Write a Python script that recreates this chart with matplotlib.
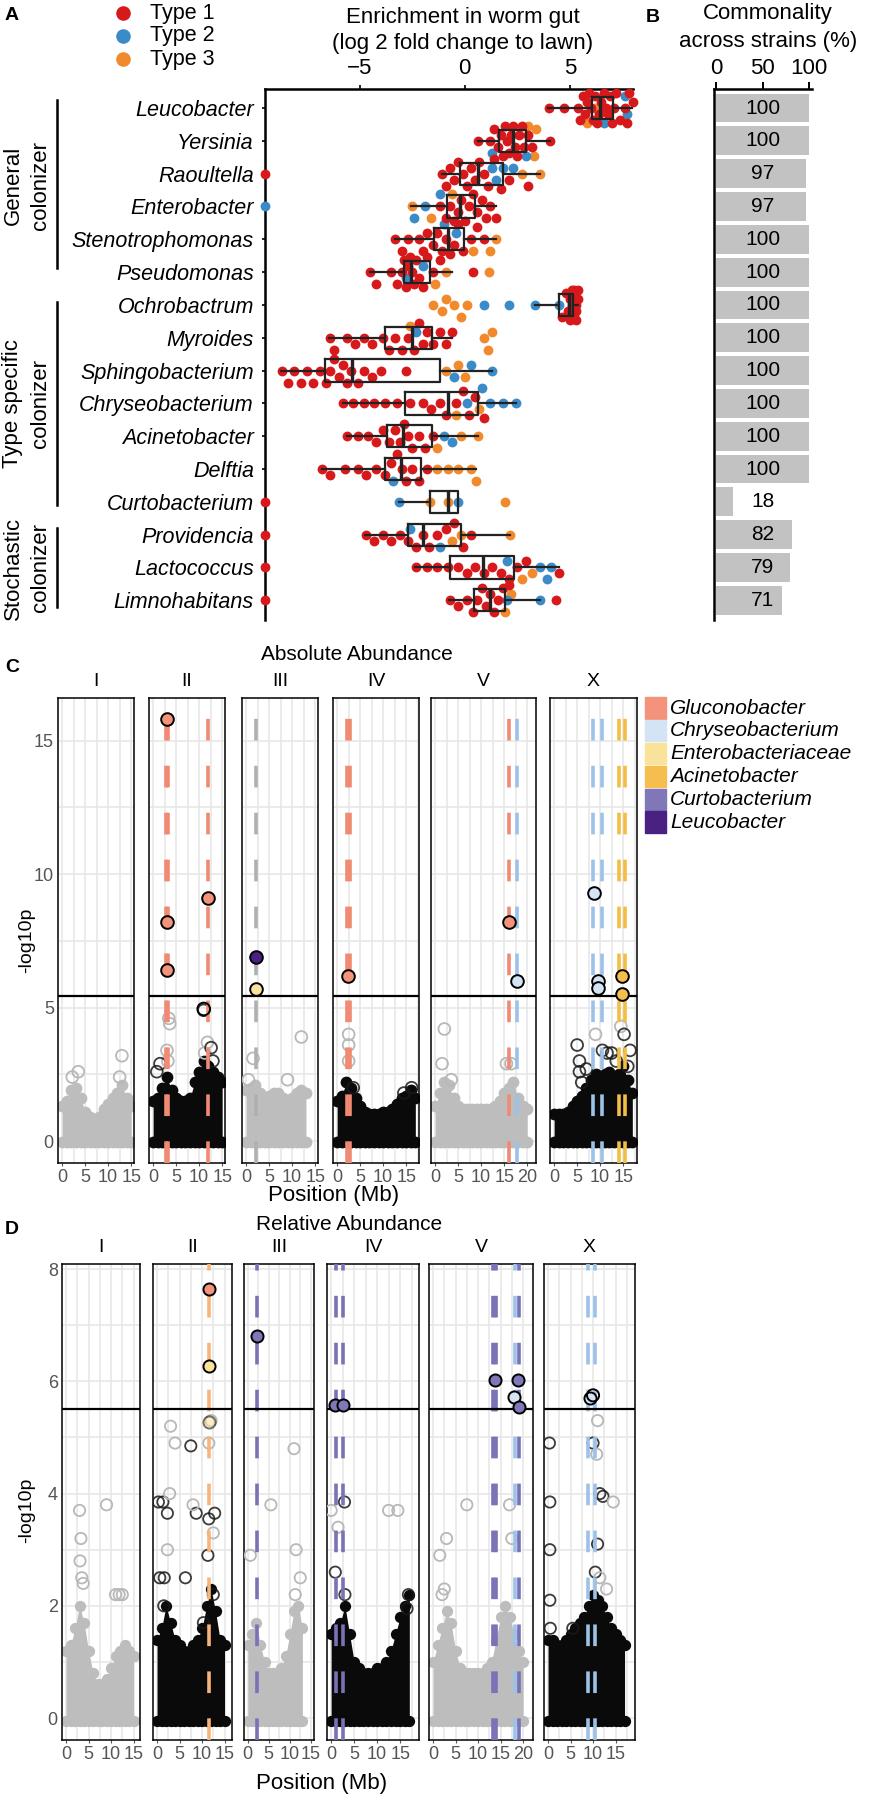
import matplotlib
matplotlib.use('Agg')
from matplotlib import pyplot as plt
from matplotlib.patches import Rectangle
from matplotlib.lines import Line2D
import numpy as np

plt.rcParams['font.family'] = ['Liberation Sans', 'DejaVu Sans']
NARROW = ['Liberation Sans Narrow', 'Liberation Sans', 'DejaVu Sans']

W, H = 887, 1800

# ---------------- Panel A / B data ----------------
GENERA = ['Leucobacter', 'Yersinia', 'Raoultella', 'Enterobacter', 'Stenotrophomonas',
          'Pseudomonas', 'Ochrobactrum', 'Myroides', 'Sphingobacterium', 'Chryseobacterium',
          'Acinetobacter', 'Delftia', 'Curtobacterium', 'Providencia', 'Lactococcus',
          'Limnohabitans']
TYPE_NAMES = ['Type 1', 'Type 2', 'Type 3']
TYPE_COLORS = ['#d7191c', '#3a8bc8', '#f08a2c']

BOX_WLO = [3.97, 0.63, -1.10, -2.54, -3.33, -4.52, 3.33, -6.46, -8.74, -5.79, -5.62, -6.80, -3.15, -4.73, -2.37, -0.76]
BOX_Q1 = [6.03, 1.63, -0.24, -0.84, -1.48, -2.90, 4.49, -3.78, -6.63, -2.83, -3.72, -3.78, -1.67, -2.72, -0.72, 0.44]
BOX_MED = [6.45, 2.30, 0.63, -0.24, -0.80, -2.54, 4.95, -2.51, -5.36, -0.82, -2.93, -3.05, -0.82, -1.99, 0.87, 1.18]
BOX_Q3 = [7.06, 2.90, 1.80, 0.48, -0.03, -1.63, 5.13, -1.56, -1.18, 0.61, -1.56, -2.09, -0.34, -0.19, 2.34, 1.92]
BOX_WHI = [8.00, 4.05, 3.57, 1.50, 1.50, -0.63, 5.40, -0.60, 1.29, 2.45, 0.65, 0.55, -0.30, 2.14, 4.46, 3.60]

# strain values (log2 fold change) per genus, by type
TYPE1_VALS = [
    [4.0, 4.7, 5.4, 5.5, 5.6, 5.7, 5.8, 5.9, 6.0, 6.1, 6.2, 6.3, 6.4, 6.5, 6.6, 6.7, 6.8, 6.9, 7.0, 7.1, 7.2, 7.4, 7.6, 7.7, 7.8, 8.0],
    [0.63, 1.2, 1.4, 1.6, 1.7, 1.8, 1.9, 2.0, 2.1, 2.2, 2.3, 2.4, 2.5, 2.6, 2.7, 2.8, 3.0, 3.2, 4.05],
    [-9.5, -1.1, -0.9, -0.7, -0.5, -0.3, -0.1, 0.1, 0.3, 0.5, 0.7, 0.9, 1.1, 1.4, 1.7, 2.1, 3.0],
    [-1.2, -0.9, -0.7, -0.5, -0.3, -0.2, 0.0, 0.2, 0.4, 0.6, 0.8, 1.0, 1.2, 1.5],
    [-3.3, -3.0, -2.7, -2.2, -2.0, -1.8, -1.5, -1.3, -1.1, -0.9, -0.7, -0.5, -0.3, -0.1, 0.3, 0.6, 0.9],
    [-4.5, -4.2, -3.5, -3.2, -3.0, -2.9, -2.8, -2.7, -2.6, -2.5, -2.4, -2.3, -2.2, -2.0, -1.8, -1.5, -1.2, 0.4],
    [4.6, 4.8, 4.9, 5.0, 5.0, 5.1, 5.1, 5.2, 5.2, 5.2, 5.3, 5.3, 5.3, 5.4, 5.4],
    [-6.4, -6.2, -5.6, -5.2, -4.8, -4.4, -3.9, -3.6, -3.3, -3.0, -2.7, -2.4, -2.2, -2.0, -1.8, -1.5, -1.2, -0.9, -0.6],
    [-8.7, -8.4, -8.1, -7.8, -7.5, -7.2, -6.9, -6.6, -6.4, -6.2, -6.0, -5.8, -5.6, -5.4, -5.1, -4.8, -4.4, -4.0, -2.8],
    [-5.8, -5.3, -4.8, -4.3, -3.8, -3.2, -2.6, -2.0, -1.6, -1.2, -0.9, -0.4, -0.1, 0.2, 0.5, 0.9],
    [-5.6, -5.1, -4.6, -4.2, -3.9, -3.6, -3.3, -3.1, -2.9, -2.7, -2.5, -2.2, -1.9, -1.5],
    [-6.8, -6.4, -5.7, -5.1, -4.7, -4.2, -3.8, -3.5, -3.2, -3.0, -2.8, -2.5, -2.2, -1.8],
    [-9.5],
    [-9.5, -4.7, -4.3, -3.9, -3.5, -3.1, -2.7, -2.3, -2.0, -1.7, -1.3, -0.9, -0.5, -0.1, 0.3],
    [-9.5, -2.3, -1.8, -1.3, -0.8, -0.3, 0.1, 0.5, 0.9, 1.3, 1.7, 2.1, 2.5, 2.9, 4.46],
    [-9.5, -0.7, -0.3, 0.1, 0.4, 0.6, 0.8, 1.0, 1.2, 1.4, 1.6, 1.8, 2.1, 4.35],
]
TYPE2_VALS = [
    [6.6, 7.6, 7.7], [1.3, 2.9], [1.3, 1.5, 1.8, 2.3], [-9.5, -2.4, -1.9, -1.2],
    [-1.0, -0.4], [-2.8, -2.0], [0.9, 2.1, 3.33, 4.5], [-2.3],
    [-0.5, 0.3, 1.3], [0.1, 0.8, 1.2, 1.8, 2.45], [-1.0, -0.6], [-3.4],
    [-3.15, -0.3], [-2.6, -1.2], [2.0, 3.6, 3.9, 4.1], [2.0, 3.6],
]
TYPE3_VALS = [
    [5.8, 6.2], [3.0, 3.3, 3.4], [2.7, 3.57], [-2.5, -1.6, -0.6],
    [0.4, 1.2, 1.5], [-1.4, -0.9, 1.15], [-1.5, -1.1, -0.9, -0.5, -0.2, 0.1], [-2.6, 0.9, 1.1, 1.3],
    [-0.9, -0.3, 0.0], [-0.4, 0.7], [-1.3, -0.2, 0.65], [-1.3, -0.8, -0.3, 0.3, 0.55],
    [-1.67, -0.8, 1.93], [-0.6, -0.2, 2.14], [2.7, 3.2], [1.9, 2.2],
]

COMMONALITY = [100, 100, 97, 97, 100, 100, 100, 100, 100, 100, 100, 100, 18, 82, 79, 71]

# ---------------- Panel C / D data ----------------
CHROMS = ['I', 'II', 'III', 'IV', 'V', 'X']
TAXA = ['Gluconobacter', 'Chryseobacterium', 'Enterobacteriaceae', 'Acinetobacter',
        'Curtobacterium', 'Leucobacter']
TAXA_FILL = ['#f4937c', '#d4e4f4', '#fbe29b', '#f6be4f', '#7f77b8', '#4b2083']
CLOUD_COLORS = ['#bdbdbd', '#0a0a0a', '#bdbdbd', '#0a0a0a', '#bdbdbd', '#0a0a0a']

# upper edge of the dense marker cloud at 0, 1, 2 ... Mb
C_ENV = [
    [1.3, 1.5, 1.9, 2.0, 1.6, 1.1, 0.9, 0.8, 0.9, 1.2, 1.4, 1.6, 1.8, 2.1, 1.6, 1.3],
    [1.5, 1.6, 2.0, 2.4, 1.9, 1.6, 1.5, 1.5, 1.6, 2.2, 2.6, 3.0, 2.8, 2.6, 2.4, 2.2],
    [1.9, 2.0, 2.1, 1.8, 1.6, 1.7, 1.8, 1.8, 1.6, 1.5, 1.6, 1.8, 1.9, 1.8],
    [1.5, 1.7, 2.2, 2.0, 1.6, 1.3, 1.1, 1.0, 1.0, 1.0, 1.1, 1.1, 1.2, 1.4, 1.6, 1.7, 1.9, 1.6],
    [1.3, 1.8, 2.2, 2.1, 1.6, 1.3, 1.2, 1.2, 1.2, 1.2, 1.2, 1.2, 1.2, 1.3, 1.5, 1.8, 2.0, 2.2, 1.6, 1.3, 1.2],
    [1.0, 1.0, 1.0, 1.1, 1.3, 1.5, 1.7, 2.0, 2.3, 2.5, 2.4, 2.5, 2.6, 2.4, 2.5, 2.8, 2.3, 1.8],
]
D_ENV = [
    [1.2, 1.3, 1.6, 2.0, 1.7, 1.2, 0.8, 0.6, 0.6, 0.7, 0.9, 1.1, 1.2, 1.3, 1.2, 1.1],
    [1.4, 1.6, 2.0, 1.7, 1.4, 1.3, 1.2, 1.2, 1.3, 1.4, 1.6, 2.0, 2.3, 1.9, 1.4, 1.3],
    [1.3, 1.5, 1.7, 1.3, 1.0, 0.8, 0.8, 0.8, 0.9, 1.1, 1.5, 1.9, 2.0, 1.6],
    [1.5, 1.6, 1.7, 2.0, 1.5, 1.0, 0.9, 0.8, 0.8, 0.8, 0.9, 0.9, 1.0, 1.2, 1.5, 1.8, 2.0, 2.2],
    [1.0, 1.3, 1.6, 1.9, 1.7, 1.2, 0.9, 0.8, 0.8, 0.8, 0.8, 0.8, 0.9, 1.0, 1.4, 1.8, 2.0, 1.8, 1.5, 1.2, 1.0],
    [1.4, 1.4, 1.3, 1.3, 1.4, 1.5, 1.6, 1.7, 1.8, 2.0, 2.2, 2.1, 2.0, 1.8, 1.6, 1.5, 1.4, 1.3],
]

# scattered markers above the cloud (1 = dark, 0 = light)
C_OUT_CHR = ['I', 'I', 'I', 'I', 'II', 'II', 'II', 'II', 'II', 'II', 'II', 'II', 'II', 'II', 'II',
             'III', 'III', 'III', 'III', 'IV', 'IV', 'IV', 'IV', 'IV', 'IV',
             'V', 'V', 'V', 'V', 'V', 'X', 'X', 'X', 'X', 'X', 'X', 'X', 'X', 'X', 'X', 'X', 'X', 'X', 'X']
C_OUT_POS = [2.2, 3.5, 13.0, 12.5, 3.4, 3.6, 3.0, 3.2, 1.5, 0.8, 11.0, 11.8, 11.2, 12.6, 13.0,
             12.0, 1.5, 0.5, 9.0, 2.5, 2.5, 2.5, 3.5, 16.2, 14.5,
             2.0, 1.5, 3.5, 15.5, 16.5, 5.0, 5.5, 5.5, 6.0, 9.0, 10.5, 11.5, 12.5, 14.5, 15.2, 16.5, 16.0, 13.5, 7.0]
C_OUT_VAL = [2.4, 2.6, 3.2, 2.4, 4.6, 4.4, 3.4, 3.0, 2.9, 2.6, 4.9, 3.7, 3.3, 3.5, 3.0,
             3.9, 3.1, 2.3, 2.3, 4.0, 3.6, 3.0, 2.0, 2.0, 1.8,
             4.2, 2.9, 2.3, 2.9, 2.9, 3.6, 3.0, 2.6, 2.2, 4.0, 3.4, 3.3, 3.3, 4.3, 4.0, 3.4, 2.8, 3.0, 2.7]
C_OUT_DARK = [0, 0, 0, 0, 0, 0, 0, 0, 1, 1, 1, 0, 0, 1, 1,
              0, 0, 0, 0, 0, 0, 0, 1, 1, 1,
              0, 0, 0, 0, 0, 1, 1, 1, 1, 0, 1, 1, 1, 0, 1, 1, 1, 1, 1]

D_OUT_CHR = ['I'] * 9 + ['II'] * 22 + ['III'] * 6 + ['IV'] * 9 + ['V'] * 7 + ['X'] * 16
D_OUT_POS = [3.0, 3.3, 3.1, 3.5, 3.8, 11.0, 11.8, 12.5, 9.0,
             0.3, 1.3, 2.3, 8.7, 11.5, 12.8, 0.6, 1.6, 11.3, 6.3, 7.5, 10.3, 1.5, 12.5,
             3.0, 4.0, 12.0, 11.5, 2.3, 2.8, 12.5, 8.0,
             11.0, 5.5, 0.6, 11.5, 12.5, 11.3,
             2.9, 0.9, 3.0, 16.8, 16.5, 12.5, 14.5, 0.0, 1.5,
             1.5, 3.0, 2.5, 2.0, 17.0, 17.5, 7.5,
             0.3, 0.4, 0.4, 0.4, 0.5, 10.0, 11.5, 12.2, 11.0, 10.5, 5.5, 14.5, 10.8, 11.5, 13.0, 11.0]
D_OUT_VAL = [3.7, 3.2, 2.8, 2.5, 2.4, 2.2, 2.2, 2.2, 3.8,
             3.85, 3.85, 3.65, 3.65, 3.55, 3.65, 2.5, 2.5, 2.9, 2.5, 4.85, 1.7, 2.0, 2.2,
             5.2, 4.9, 5.3, 4.9, 3.0, 4.0, 3.3, 3.8,
             4.8, 3.8, 2.9, 3.0, 2.5, 2.2,
             3.85, 2.6, 2.2, 2.2, 1.95, 3.7, 3.7, 3.7, 3.4,
             2.9, 3.2, 2.3, 2.2, 3.8, 3.2, 3.8,
             4.9, 3.85, 3.0, 2.1, 1.6, 4.9, 4.0, 3.95, 3.1, 2.6, 1.6, 3.85, 4.7, 2.5, 2.3, 5.3]
D_OUT_DARK = [0] * 9 + [1] * 14 + [0] * 8 + [0] * 6 + [1] * 5 + [0] * 4 + [0] * 7 + [1] * 11 + [0] * 5

# QTL marker lines (chromosome, Mb, colour)
C_LINE_CHR = ['II', 'II', 'II', 'III', 'IV', 'IV', 'V', 'V', 'X', 'X', 'X', 'X']
C_LINE_POS = [2.7, 3.3, 12.0, 2.2, 2.1, 2.8, 16.1, 17.9, 8.5, 10.3, 14.0, 15.3]
C_LINE_COL = ['#f08a72', '#f08a72', '#f08a72', '#b0b0b0', '#f08a72', '#f08a72', '#f08a72',
              '#9cc2e8', '#9cc2e8', '#9cc2e8', '#f2be44', '#f2be44']
D_LINE_CHR = ['II', 'III', 'IV', 'IV', 'V', 'V', 'V', 'V', 'X', 'X']
D_LINE_POS = [11.5, 2.2, 1.0, 2.5, 13.3, 14.0, 18.3, 19.0, 8.8, 10.4]
D_LINE_COL = ['#f6b57a', '#7a72b6', '#7a72b6', '#7a72b6', '#7a72b6', '#7a72b6', '#9cc2e8',
              '#7a72b6', '#9cc2e8', '#9cc2e8']

# significant markers (taxon index, -1 = open circle)
C_SIG_CHR = ['II', 'II', 'II', 'II', 'II', 'III', 'III', 'IV', 'V', 'V', 'X', 'X', 'X', 'X', 'X']
C_SIG_POS = [3.0, 3.0, 3.0, 12.0, 11.0, 2.2, 2.2, 2.4, 16.1, 17.9, 8.7, 9.6, 9.6, 14.8, 14.8]
C_SIG_VAL = [15.8, 8.2, 6.4, 9.1, 4.95, 6.9, 5.7, 6.2, 8.2, 6.0, 9.3, 6.0, 5.75, 6.2, 5.5]
C_SIG_TAX = [0, 0, 0, 0, -1, 5, 2, 0, 0, 1, 1, 1, 1, 3, 3]
D_SIG_CHR = ['II', 'II', 'II', 'III', 'IV', 'IV', 'V', 'V', 'V', 'V', 'X', 'X']
D_SIG_POS = [11.5, 11.5, 11.5, 2.2, 0.8, 2.5, 13.8, 18.8, 17.9, 19.0, 9.4, 10.0]
D_SIG_VAL = [7.65, 6.27, 5.27, 6.8, 5.58, 5.58, 6.02, 6.02, 5.72, 5.55, 5.7, 5.75]
D_SIG_TAX = [0, 2, 2, 4, 4, 4, 4, 4, 1, 4, 1, -1]


def fx(x):
    return x / W


def fy(y):
    return 1 - y / H


def px_axes(fig, left, top, right, bottom):
    return fig.add_axes([left / W, 1 - bottom / H, (right - left) / W, (bottom - top) / H])


def swarm_offsets(vals, xscale=21.0, row=32.8, d=9.5):
    cands = [0.0, 6.0, -6.0, 12.0, -12.0, 15.0, -15.0]
    placed = []
    offs = np.zeros(len(vals))
    for i in np.argsort(vals, kind='stable'):
        x = vals[i] * xscale
        best, best_cost = 0.0, None
        for c in cands:
            cost = sum(max(0.0, d - np.hypot(x - px, c - py)) for px, py in placed)
            if cost == 0:
                best = c
                break
            if best_cost is None or cost < best_cost:
                best, best_cost = c, cost
        placed.append((x, best))
        offs[i] = best / row
    return offs


fig = plt.figure(figsize=(W / 100, H / 100), dpi=100)

# ================= Panel A =================
axA = px_axes(fig, 265, 89, 633, 620)
axA.set_xlim(-9.5, 8.0)
axA.set_ylim(15.6, -0.58)
for s in ['right', 'bottom']:
    axA.spines[s].set_visible(False)
for s in ['top', 'left']:
    axA.spines[s].set_linewidth(1.8)
axA.xaxis.tick_top()
axA.set_xticks([-5, 0, 5])
axA.set_xticklabels(['\u22125', '0', '5'])
axA.tick_params(axis='x', labelsize=16, length=3, width=1.2, pad=4)
axA.set_yticks(range(len(GENERA)))
axA.set_yticklabels(GENERA, fontstyle='italic', fontsize=15.5)
axA.tick_params(axis='y', length=2, width=1.2, pad=6)

for i in range(len(GENERA)):
    vals = TYPE1_VALS[i] + TYPE2_VALS[i] + TYPE3_VALS[i]
    types = [0] * len(TYPE1_VALS[i]) + [1] * len(TYPE2_VALS[i]) + [2] * len(TYPE3_VALS[i])
    offs = swarm_offsets(np.array(vals))
    for t, z in [(2, 3), (1, 4), (0, 5)]:
        xs = [v for v, tt in zip(vals, types) if tt == t]
        ys = [i + o for o, tt in zip(offs, types) if tt == t]
        axA.scatter(xs, ys, s=50, color=TYPE_COLORS[t], lw=0, zorder=z, clip_on=False)

stats = [dict(whislo=BOX_WLO[i], q1=BOX_Q1[i], med=BOX_MED[i], q3=BOX_Q3[i], whishi=BOX_WHI[i])
         for i in range(len(GENERA))]
axA.bxp(stats, positions=range(len(GENERA)), orientation='horizontal', widths=0.68,
        showfliers=False, showcaps=False,
        boxprops=dict(color='#222222', lw=1.6), whiskerprops=dict(color='#222222', lw=1.6),
        medianprops=dict(color='#222222', lw=2.4), manage_ticks=False, zorder=6)
axA.set_yticks(range(len(GENERA)))

fig.text(fx(463), fy(17), 'Enrichment in worm gut', ha='center', va='center', fontsize=16)
fig.text(fx(463), fy(43), '(log 2 fold change to lawn)', ha='center', va='center', fontsize=16)
fig.text(fx(12), fy(16), 'A', ha='center', va='center', fontsize=14, fontweight='bold')

for k, (name, col) in enumerate(zip(TYPE_NAMES, TYPE_COLORS)):
    yy = 13 + k * 23
    fig.add_artist(Line2D([fx(123)], [fy(yy)], marker='o', ms=10.5, color=col, mec='none',
                          transform=fig.transFigure))
    fig.text(fx(150), fy(yy), name, ha='left', va='center', fontsize=15.5)

# colonizer groups
groups = [(('General', 'colonizer'), 100, 268, 185),
          (('Type specific', 'colonizer'), 302, 505, 404),
          (('Stochastic', 'colonizer'), 528, 607, 568)]
for (l1, l2), y0, y1, yc in groups:
    fig.add_artist(Line2D([fx(57), fx(57)], [fy(y0), fy(y1)], color='black', lw=1.8,
                          transform=fig.transFigure))
    fig.text(fx(13), fy(yc), l1, rotation=90, ha='center', va='center', fontsize=16)
    fig.text(fx(41), fy(yc), l2, rotation=90, ha='center', va='center', fontsize=16)

# ================= Panel B =================
axB = px_axes(fig, 714, 89, 812, 620)
axB.set_xlim(-2.2, 103)
axB.set_ylim(15.6, -0.58)
axB.barh(range(len(COMMONALITY)), COMMONALITY, height=0.88, color='#c2c2c2', lw=0)
for i, v in enumerate(COMMONALITY):
    axB.text(50, i, str(v), ha='center', va='center', fontsize=15)
for s in ['right', 'bottom']:
    axB.spines[s].set_visible(False)
for s in ['top', 'left']:
    axB.spines[s].set_linewidth(1.8)
axB.xaxis.tick_top()
axB.set_xticks([0, 50, 100])
axB.tick_params(axis='x', labelsize=16, length=5, width=1.4, pad=2)
axB.set_yticks([])
fig.text(fx(768), fy(14), 'Commonality', ha='center', va='center', fontsize=16)
fig.text(fx(768), fy(41), 'across strains (%)', ha='center', va='center', fontsize=16)
fig.text(fx(653), fy(17), 'B', ha='center', va='center', fontsize=14, fontweight='bold')


# ================= Panels C / D =================
def manhattan(lefts, rights, ppm, top, bottom, ylim, yticks, hstep, thr, env, base, msize,
              out, lines, sig):
    axes = []
    for k, ch in enumerate(CHROMS):
        ax = px_axes(fig, lefts[k], top, rights[k], bottom)
        xmax = (rights[k] - lefts[k]) / ppm[k] - 0.9
        ax.set_xlim(-0.9, xmax)
        ax.set_ylim(*ylim)
        for g in np.arange(0, 25, 2.5):
            if g < xmax:
                ax.axvline(g, color='#e6e6e6', lw=1.1, zorder=0)
        for g in np.arange(0, ylim[1], hstep):
            ax.axhline(g, color='#e6e6e6', lw=1.1, zorder=0)
        e = env[k]
        xs = list(range(len(e)))
        ax.fill_between(xs, base, e, color=CLOUD_COLORS[k], lw=0, zorder=2)
        ax.scatter(xs, e, s=msize, color=CLOUD_COLORS[k], lw=0, zorder=2)
        ax.scatter(xs, [base] * len(xs), s=msize, color=CLOUD_COLORS[k], lw=0, zorder=2)
        oc, op, ov, od = out
        for c, p, v, d in zip(oc, op, ov, od):
            if c == ch:
                ax.scatter([p], [v], s=msize, facecolor='none',
                           edgecolor='#1a1a1a' if d else '#b8b8b8', lw=1.3,
                           alpha=0.85 if d else 1.0, zorder=3)
        lc, lp, lcol = lines
        for c, p, col in zip(lc, lp, lcol):
            if c == ch:
                ax.axvline(p, color=col, lw=2.6, ls=(0, (6, 7)), zorder=4)
        ax.axhline(thr, color='black', lw=1.6, zorder=5)
        sc, sp, sv, st = sig
        for c, p, v, t in zip(sc, sp, sv, st):
            if c == ch:
                fc = 'none' if t < 0 else TAXA_FILL[t]
                ax.scatter([p], [v], s=msize * 1.15, facecolor=fc, edgecolor='black', lw=1.4,
                           zorder=6, alpha=0.55 if v < thr and t >= 0 else 1.0)
        ax.set_xticks([t for t in [0, 5, 10, 15, 20] if t < xmax])
        ax.tick_params(axis='x', length=2, color='#555555', labelcolor='#555555', pad=2)
        for lab in ax.get_xticklabels():
            lab.set_family(NARROW)
            lab.set_fontsize(13)
        ax.set_yticks(yticks)
        if k == 0:
            ax.tick_params(axis='y', length=0, labelcolor='#555555', pad=3)
            for lab in ax.get_yticklabels():
                lab.set_family(NARROW)
                lab.set_fontsize(13)
        else:
            ax.tick_params(axis='y', length=0, labelleft=False)
        for s in ax.spines.values():
            s.set_linewidth(1.1)
        fig.text(fx((lefts[k] + rights[k]) / 2), fy(top - 17), ch, ha='center', va='center',
                 fontsize=14, family=NARROW)
        axes.append(ax)
    return axes


manhattan([58, 149, 242, 333, 431, 550], [134, 225, 318, 419, 536, 637],
          [4.6, 4.6, 4.6, 4.6, 4.6, 4.6], 698, 1163, (-0.82, 16.6), [0, 5, 10, 15], 2.5, 5.43,
          C_ENV, -0.05, 72, (C_OUT_CHR, C_OUT_POS, C_OUT_VAL, C_OUT_DARK),
          (C_LINE_CHR, C_LINE_POS, C_LINE_COL), (C_SIG_CHR, C_SIG_POS, C_SIG_VAL, C_SIG_TAX))
fig.text(fx(357), fy(655), 'Absolute Abundance', ha='center', va='center', fontsize=15, family=NARROW)
fig.text(fx(334), fy(1195), 'Position (Mb)', ha='center', va='center', fontsize=16, family=NARROW)
fig.text(fx(27), fy(940), '-log10p', rotation=90, ha='center', va='center', fontsize=14, family=NARROW)
fig.text(fx(12), fy(667), 'C', ha='center', va='center', fontsize=14, fontweight='bold')

for k, (name, col) in enumerate(zip(TAXA, TAXA_FILL)):
    yc = 708 + k * 22.8
    fig.add_artist(Rectangle((fx(645), fy(yc + 10.5)), 21 / W, 21 / H, color=col,
                             transform=fig.transFigure))
    fig.text(fx(670), fy(yc), name, ha='left', va='center', fontsize=15, fontstyle='italic',
             family=NARROW)

manhattan([62, 153, 244, 327, 429, 544], [140, 232, 314, 419, 533, 635],
          [4.5, 4.5, 4.2, 4.6, 4.5, 4.5], 1264, 1740, (-0.39, 8.09), [0, 2, 4, 6, 8], 1.0, 5.5,
          D_ENV, -0.05, 66, (D_OUT_CHR, D_OUT_POS, D_OUT_VAL, D_OUT_DARK),
          (D_LINE_CHR, D_LINE_POS, D_LINE_COL), (D_SIG_CHR, D_SIG_POS, D_SIG_VAL, D_SIG_TAX))
fig.text(fx(349), fy(1225), 'Relative Abundance', ha='center', va='center', fontsize=15, family=NARROW)
fig.text(fx(322), fy(1783), 'Position (Mb)', ha='center', va='center', fontsize=16, family=NARROW)
fig.text(fx(27), fy(1510), '-log10p', rotation=90, ha='center', va='center', fontsize=14, family=NARROW)
fig.text(fx(12), fy(1230), 'D', ha='center', va='center', fontsize=14, fontweight='bold')

fig.savefig('out.png', dpi=100)
